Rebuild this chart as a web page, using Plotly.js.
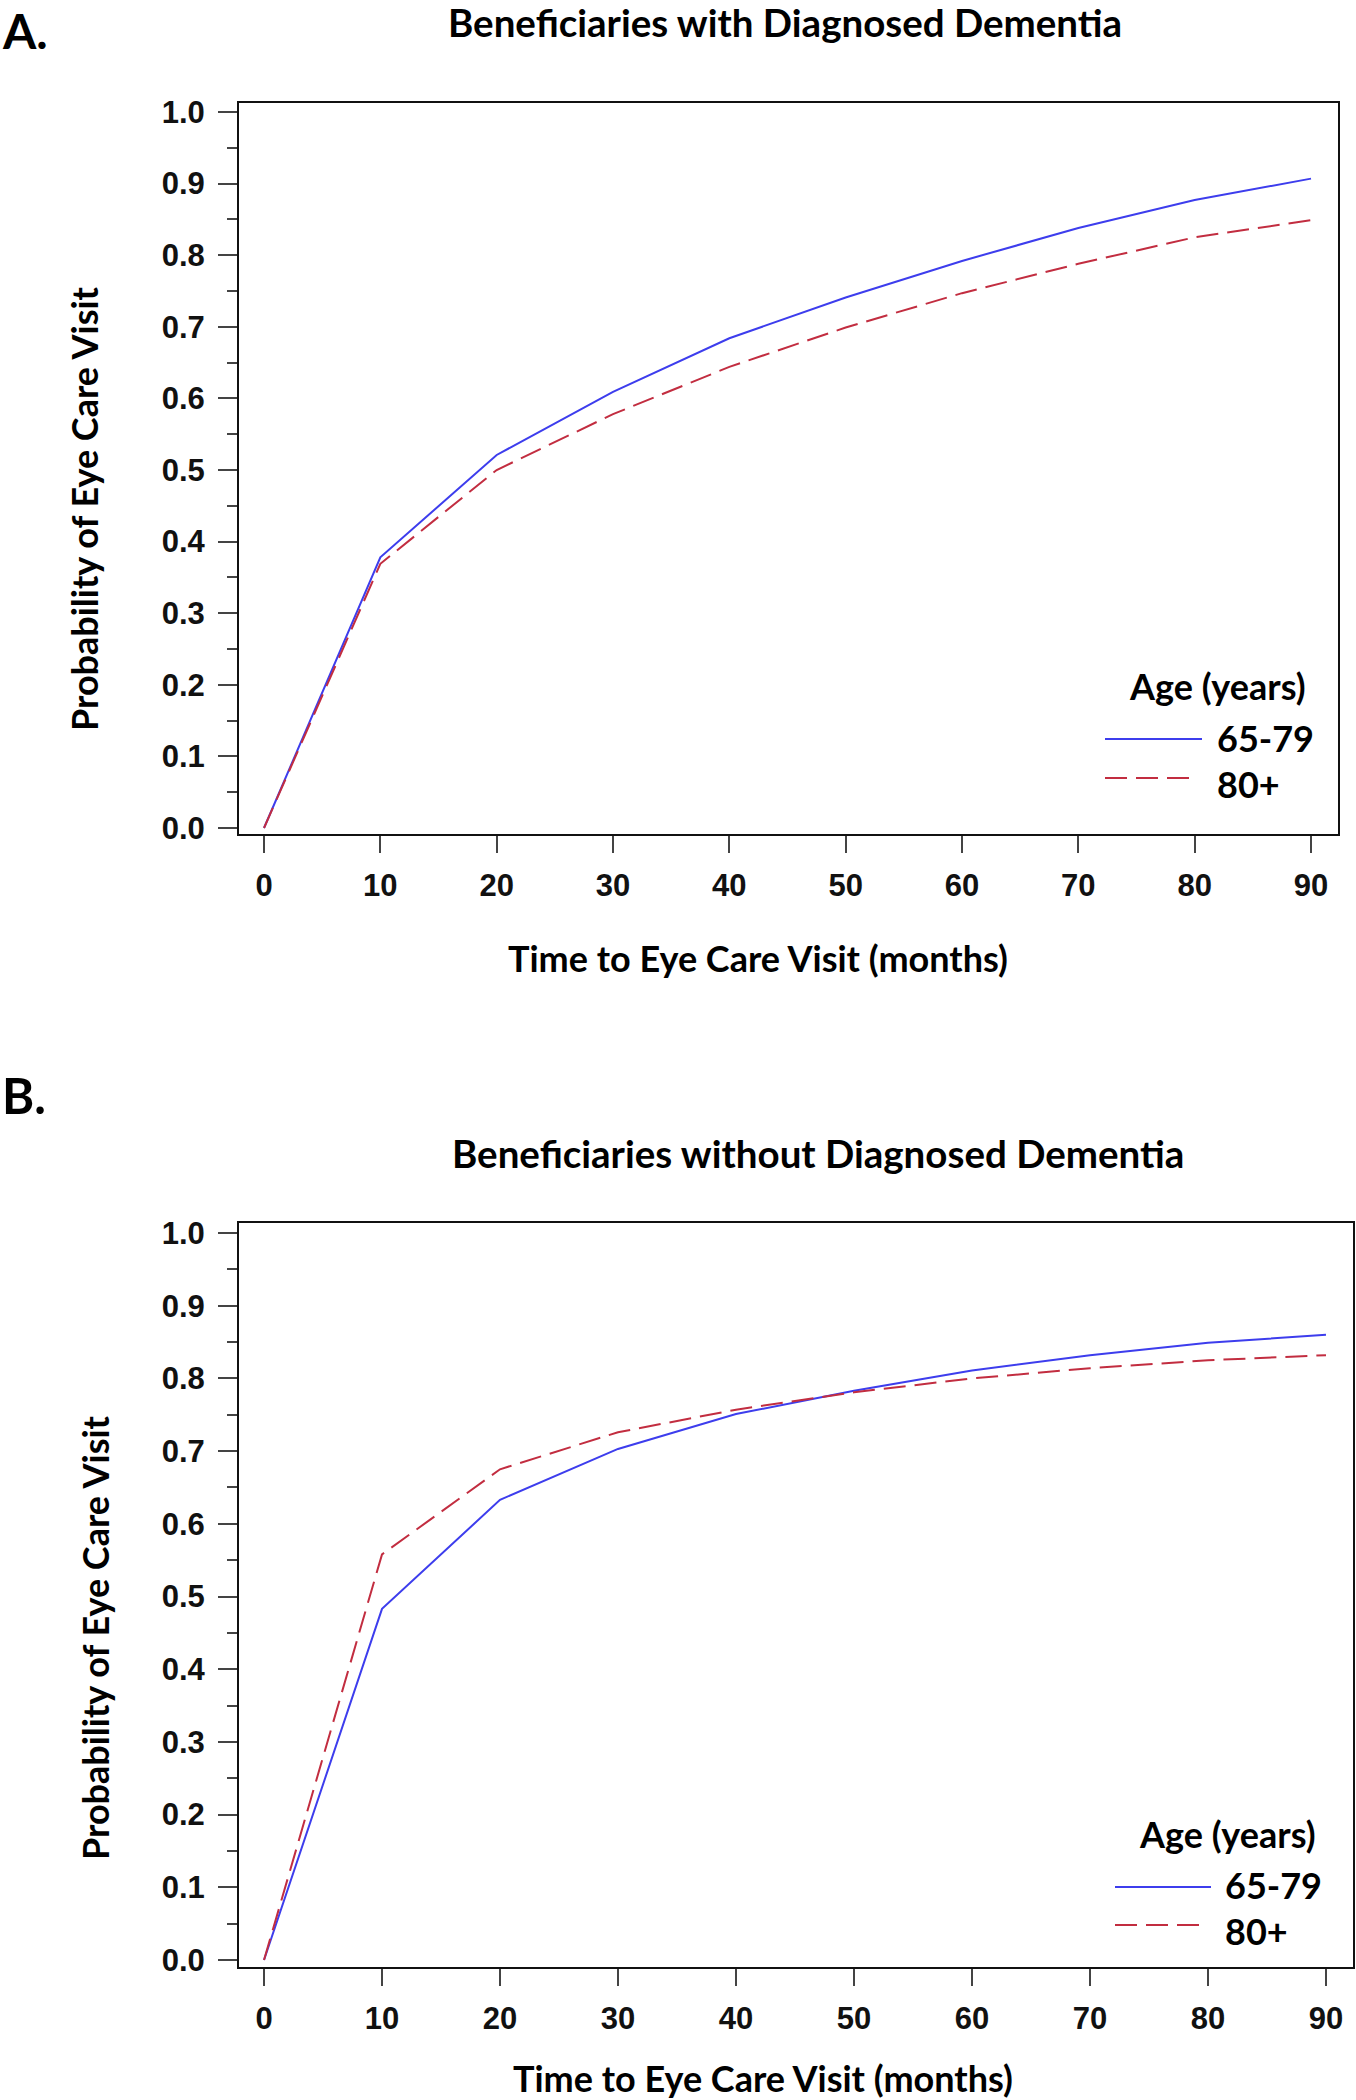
<!DOCTYPE html>
<html>
<head>
<meta charset="utf-8">
<script src="https://cdn.plot.ly/plotly-3.0.1.min.js"></script>
<style>
  html, body { margin: 0; padding: 0; background: #fff; }
  #chart { width: 1356px; height: 2100px; }
</style>
</head>
<body>
<div id="chart"></div>
<script>
// ---- data ----
const months = [0, 10, 20, 30, 40, 50, 60, 70, 80, 90];
const dementia_65_79   = [0, 0.378, 0.521, 0.609, 0.684, 0.741, 0.792, 0.838, 0.877, 0.907];
const dementia_80plus  = [0, 0.369, 0.500, 0.578, 0.644, 0.699, 0.747, 0.788, 0.825, 0.849];
const noDementia_65_79  = [0, 0.483, 0.633, 0.703, 0.751, 0.783, 0.811, 0.832, 0.849, 0.860];
const noDementia_80plus = [0, 0.558, 0.675, 0.726, 0.757, 0.781, 0.800, 0.814, 0.825, 0.832];
const xTickVals = [0, 10, 20, 30, 40, 50, 60, 70, 80, 90];
const yTickVals = [0, 0.1, 0.2, 0.3, 0.4, 0.5, 0.6, 0.7, 0.8, 0.9, 1.0];
const yTickText = ["0.0","0.1","0.2","0.3","0.4","0.5","0.6","0.7","0.8","0.9","1.0"];
const seriesNames = ["65-79", "80+"];
const legendTitle = "Age (years)";
const panelTitles = ["Beneficiaries with Diagnosed Dementia", "Beneficiaries without Diagnosed Dementia"];
const panelLetters = ["A.", "B."];
const xTitle = "Time to Eye Care Visit (months)";
const yTitle = "Probability of Eye Care Visit";

// ---- styling ----
const W = 1356, H = 2100;
const px = v => v / W;
const py = v => 1 - v / H;
const BLUE = "#3d3ded";
const RED = "#c22d40";
const TXT = "Lato";
const TICKFONT = {family: "Liberation Sans", size: 31, color: "#111", weight: "bold"};

const traces = [
  {x: months, y: dementia_65_79, xaxis: "x", yaxis: "y", mode: "lines", name: seriesNames[0],
   line: {color: BLUE, width: 2}},
  {x: months, y: dementia_80plus, xaxis: "x", yaxis: "y", mode: "lines", name: seriesNames[1],
   line: {color: RED, width: 2, dash: "22px,9px"}},
  {x: months, y: noDementia_65_79, xaxis: "x2", yaxis: "y2", mode: "lines", name: seriesNames[0],
   line: {color: BLUE, width: 2}},
  {x: months, y: noDementia_80plus, xaxis: "x2", yaxis: "y2", mode: "lines", name: seriesNames[1],
   line: {color: RED, width: 2, dash: "22px,9px"}}
];

function xAxis(domain, range, anchor) {
  return {
    domain: domain, range: range, anchor: anchor,
    tickmode: "array", tickvals: xTickVals,
    ticks: "outside", ticklen: 17, tickwidth: 2, tickcolor: "#444",
    ticklabelstandoff: 6,
    showline: true, linecolor: "#111", linewidth: 2, mirror: true,
    showgrid: false, zeroline: false, tickfont: TICKFONT
  };
}
function yAxis(domain, range, anchor) {
  return {
    domain: domain, range: range, anchor: anchor,
    tickmode: "array", tickvals: yTickVals, ticktext: yTickText,
    ticks: "outside", ticklen: 19, tickwidth: 2, tickcolor: "#444",
    ticklabelstandoff: 7,
    minor: {dtick: 0.05, tick0: 0, ticks: "outside", ticklen: 10, tickwidth: 2, tickcolor: "#444"},
    showline: true, linecolor: "#111", linewidth: 2, mirror: true,
    showgrid: false, zeroline: false, tickfont: TICKFONT
  };
}

function ann(text, x, y, size, opts) {
  return Object.assign({
    text: text, x: px(x), y: py(y), xref: "paper", yref: "paper",
    showarrow: false, xanchor: "center", yanchor: "middle",
    font: {family: TXT, size: size, color: "#000", weight: "bold"}
  }, opts || {});
}

const annotations = [
  ann(panelLetters[0], 0, 0, 48, {xanchor: "left", yanchor: "top"}),
  ann(panelTitles[0], 785, 22, 38.5),
  ann(xTitle, 758, 958, 36),
  ann(yTitle, 84, 509, 36, {textangle: -90}),
  ann(legendTitle, 1127, 686, 36, {xanchor: "left"}),
  ann(seriesNames[0], 1215, 738, 36, {xanchor: "left"}),
  ann(seriesNames[1], 1215, 784, 36, {xanchor: "left"}),

  ann(panelLetters[1], 0, 1095, 49, {xanchor: "left"}),
  ann(panelTitles[1], 818, 1153, 38.5),
  ann(xTitle, 763, 2078, 36),
  ann(yTitle, 95, 1638, 36, {textangle: -90}),
  ann(legendTitle, 1137, 1834, 36, {xanchor: "left"}),
  ann(seriesNames[0], 1223, 1885, 36, {xanchor: "left"}),
  ann(seriesNames[1], 1223, 1931, 36, {xanchor: "left"})
];

function legLine(x0, x1, y, color, dash) {
  return {type: "line", xref: "paper", yref: "paper", x0: px(x0), x1: px(x1), y0: py(y), y1: py(y),
          line: {color: color, width: 2, dash: dash || "solid"}};
}
const shapes = [
  legLine(1105, 1202, 739, BLUE),
  legLine(1105, 1197, 778, RED, "22px,9px"),
  legLine(1115, 1211, 1887, BLUE),
  legLine(1115, 1207, 1925, RED, "22px,9px")
];

const layout = {
  width: W, height: H,
  margin: {l: 0, r: 0, t: 0, b: 0, pad: 0},
  paper_bgcolor: "#fff", plot_bgcolor: "#fff",
  showlegend: false,
  xaxis: xAxis([px(239), px(1338)], [-2.15, 92.32], "y"),
  yaxis: yAxis([py(834), py(103)], [-0.0084, 1.0126], "x"),
  xaxis2: xAxis([px(239), px(1353)], [-2.12, 92.29], "y2"),
  yaxis2: yAxis([py(1967), py(1223)], [-0.0096, 1.0138], "x2"),
  annotations: annotations,
  shapes: shapes
};

Plotly.newPlot("chart", traces, layout, {displayModeBar: false, staticPlot: true});
</script>
</body>
</html>
